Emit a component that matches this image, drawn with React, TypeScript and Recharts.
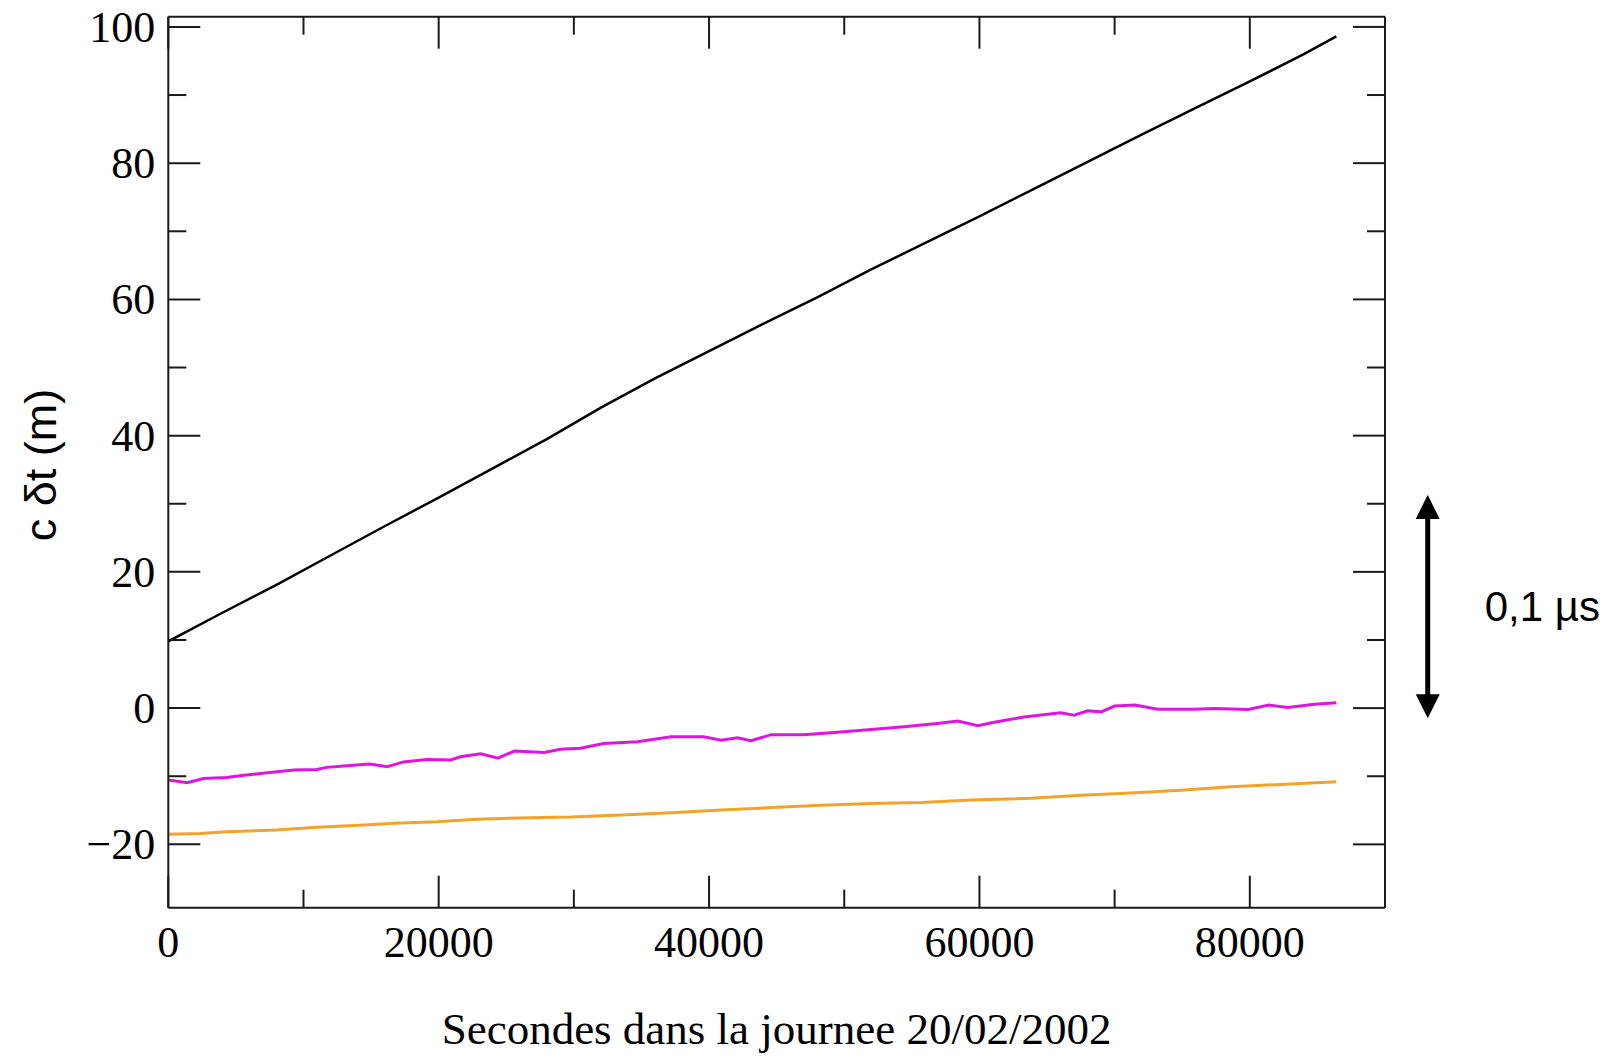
import { Line, LineChart, ReferenceLine, XAxis, YAxis } from 'recharts';

// Axes
const X_DOMAIN = [0, 90000];
const Y_DOMAIN = [-29.3, 101.5];
const X_TICKS = [0, 10000, 20000, 30000, 40000, 50000, 60000, 70000, 80000, 90000];
const Y_TICKS = [-20, -10, 0, 10, 20, 30, 40, 50, 60, 70, 80, 90, 100];
const X_LABEL_STEP = 20000;
const X_LABEL_MAX = 80000;
const Y_LABEL_STEP = 20;

const X_TITLE = 'Secondes dans la journee 20/02/2002';
const Y_TITLE = 'c δt (m)';

// Scale arrow on the right: 0,1 µs × c ≈ 30 m
const ARROW_X = 93160;
const ARROW_Y = [-1.5, 31.3];
const ARROW_TEXT = '0,1 µs';

// Series (seconds, metres)
const blackT = [0, 4000, 8000, 12000, 16000, 20000, 24000, 28000, 32000, 36000, 40000, 44000,
  48000, 52000, 56000, 60000, 64000, 68000, 72000, 76000, 80000, 84000, 86400];
const blackV = [9.8, 14.0, 18.1, 22.4, 26.7, 30.9, 35.2, 39.5, 44.1, 48.4, 52.4, 56.4,
  60.3, 64.4, 68.3, 72.2, 76.2, 80.2, 84.2, 88.1, 92.0, 96.0, 98.6];

const magentaT = [0, 1400, 2600, 4300, 5600, 6800, 9300, 11000, 11700, 13000, 14900, 16200,
  17400, 19100, 20900, 21600, 23100, 24400, 25600, 27800, 29000, 30500, 32200, 34700, 37200,
  39600, 40900, 42100, 43100, 44600, 47000, 49500, 52000, 54400, 56900, 58400, 59900, 61000,
  63300, 66000, 67000, 68000, 69000, 70000, 71500, 73200, 75900, 77400, 79900, 81400, 82800,
  84800, 86400];
const magentaV = [-10.55, -10.95, -10.35, -10.2, -9.85, -9.6, -9.1, -9.0, -8.7, -8.5, -8.2, -8.6,
  -7.9, -7.55, -7.6, -7.15, -6.7, -7.35, -6.3, -6.5, -6.05, -5.9, -5.2, -4.95, -4.2,
  -4.2, -4.7, -4.35, -4.8, -3.9, -3.9, -3.55, -3.15, -2.75, -2.25, -1.9, -2.6, -2.1,
  -1.3, -0.7, -1.05, -0.4, -0.55, 0.3, 0.45, -0.15, -0.15, -0.05, -0.2, 0.45, 0.1,
  0.55, 0.8];

const orangeT = [0, 2400, 4300, 8000, 11000, 14200, 16700, 19900, 22800, 26600, 29800, 33500,
  37200, 40900, 44600, 48300, 52000, 55700, 59400, 63800, 67500, 71200, 74900, 78600, 82300, 86400];
const orangeV = [-18.5, -18.4, -18.15, -17.9, -17.5, -17.2, -16.9, -16.7, -16.3, -16.1, -16.0, -15.7,
  -15.35, -14.95, -14.6, -14.25, -14.0, -13.85, -13.5, -13.25, -12.8, -12.45, -12.05, -11.55, -11.2, -10.8];

const toRows = (t: number[], v: number[]) => t.map((x, i) => ({ t: x, v: v[i] }));
const blackData = toRows(blackT, blackV);
const magentaData = toRows(magentaT, magentaV);
const orangeData = toRows(orangeT, orangeV);

const SERIF = '"Liberation Serif", "Times New Roman", serif';
const SANS = '"Liberation Sans", Arial, Helvetica, sans-serif';
const INK = '#1a1a1a';
const MAJOR = 32;
const MINOR = 18;

const fmt = (v: number) => String(v).replace('-', '\u2212');

function BottomTick({ x, y, payload }: any) {
  const v = payload.value;
  const major = v % X_LABEL_STEP === 0;
  return (
    <g>
      <line x1={x} x2={x} y1={y} y2={y - (major ? MAJOR : MINOR)} stroke={INK} strokeWidth={2} />
      {major && v <= X_LABEL_MAX && (
        <text x={x} y={y + 49} textAnchor="middle" fontFamily={SERIF} fontSize={44} fill="#000">
          {fmt(v)}
        </text>
      )}
    </g>
  );
}

function TopTick({ x, y, payload }: any) {
  const major = payload.value % X_LABEL_STEP === 0;
  return <line x1={x} x2={x} y1={y} y2={y + (major ? MAJOR : MINOR)} stroke={INK} strokeWidth={2} />;
}

function LeftTick({ x, y, payload }: any) {
  const v = payload.value;
  const major = v % Y_LABEL_STEP === 0;
  return (
    <g>
      <line x1={x} x2={x + (major ? MAJOR : MINOR)} y1={y} y2={y} stroke={INK} strokeWidth={2} />
      {major && (
        <text x={x - 13} y={y + 15} textAnchor="end" fontFamily={SERIF} fontSize={44} fill="#000">
          {fmt(v)}
        </text>
      )}
    </g>
  );
}

function RightTick({ x, y, payload }: any) {
  const major = payload.value % Y_LABEL_STEP === 0;
  return <line x1={x} x2={x - (major ? MAJOR : MINOR)} y1={y} y2={y} stroke={INK} strokeWidth={2} />;
}

function ArrowShape({ x1, y1, y2 }: any) {
  const top = Math.min(y1, y2);
  const bottom = Math.max(y1, y2);
  const head = 24;
  const half = 12;
  return (
    <g>
      <line x1={x1} x2={x1} y1={top + head - 2} y2={bottom - head + 2} stroke="#000" strokeWidth={5} />
      <polygon points={`${x1},${top} ${x1 - half},${top + head} ${x1 + half},${top + head}`} fill="#000" />
      <polygon points={`${x1},${bottom} ${x1 - half},${bottom - head} ${x1 + half},${bottom - head}`} fill="#000" />
      <text x={x1 + 57} y={(top + bottom) / 2 + 14} fontFamily={SANS} fontSize={42} fill="#000">
        {ARROW_TEXT}
      </text>
    </g>
  );
}

export default function App() {
  const axisLine = { stroke: INK, strokeWidth: 2 };
  return (
    <div style={{ width: 1610, height: 1050 }}>
      <LineChart
        width={1610}
        height={1050}
        margin={{ top: 7.7, right: 232, bottom: 60.3, left: 10.3 }}
        style={{ overflow: 'visible' }}
      >
        <XAxis
          xAxisId="bottom"
          dataKey="t"
          type="number"
          domain={X_DOMAIN}
          ticks={X_TICKS}
          interval={0}
          allowDataOverflow
          height={90}
          tickSize={0}
          tickMargin={0}
          tickLine={false}
          axisLine={axisLine}
          tick={BottomTick}
          label={{
            content: () => (
              <text x={768.6} y={1036} textAnchor="middle" fontFamily={SERIF} fontSize={45} fill="#000">
                {X_TITLE}
              </text>
            ),
          }}
        />
        <XAxis
          xAxisId="top"
          orientation="top"
          dataKey="t"
          type="number"
          domain={X_DOMAIN}
          ticks={X_TICKS}
          interval={0}
          allowDataOverflow
          height={1}
          tickSize={0}
          tickMargin={0}
          tickLine={false}
          axisLine={axisLine}
          tick={TopTick}
        />
        <YAxis
          yAxisId="left"
          type="number"
          domain={Y_DOMAIN}
          ticks={Y_TICKS}
          interval={0}
          allowDataOverflow
          width={150}
          tickSize={0}
          tickMargin={0}
          tickLine={false}
          axisLine={axisLine}
          tick={LeftTick}
          label={{
            content: () => (
              <text
                x={32}
                y={457}
                transform="rotate(-90 32 457)"
                textAnchor="middle"
                dominantBaseline="central"
                fontFamily={SANS}
                fontSize={45}
                fill="#000"
              >
                {Y_TITLE}
              </text>
            ),
          }}
        />
        <YAxis
          yAxisId="right"
          orientation="right"
          type="number"
          domain={Y_DOMAIN}
          ticks={Y_TICKS}
          interval={0}
          allowDataOverflow
          width={1}
          tickSize={0}
          tickMargin={0}
          tickLine={false}
          axisLine={axisLine}
          tick={RightTick}
        />
        <Line
          data={orangeData}
          dataKey="v"
          xAxisId="bottom"
          yAxisId="left"
          type="linear"
          stroke="#f2a32a"
          strokeWidth={3}
          dot={false}
          isAnimationActive={false}
        />
        <Line
          data={magentaData}
          dataKey="v"
          xAxisId="bottom"
          yAxisId="left"
          type="linear"
          stroke="#e014e0"
          strokeWidth={3}
          dot={false}
          isAnimationActive={false}
        />
        <Line
          data={blackData}
          dataKey="v"
          xAxisId="bottom"
          yAxisId="left"
          type="linear"
          stroke="#000"
          strokeWidth={2.5}
          dot={false}
          isAnimationActive={false}
        />
        <ReferenceLine
          xAxisId="bottom"
          yAxisId="left"
          segment={[
            { x: ARROW_X, y: ARROW_Y[0] },
            { x: ARROW_X, y: ARROW_Y[1] },
          ]}
          ifOverflow="visible"
          shape={ArrowShape}
        />
      </LineChart>
    </div>
  );
}
